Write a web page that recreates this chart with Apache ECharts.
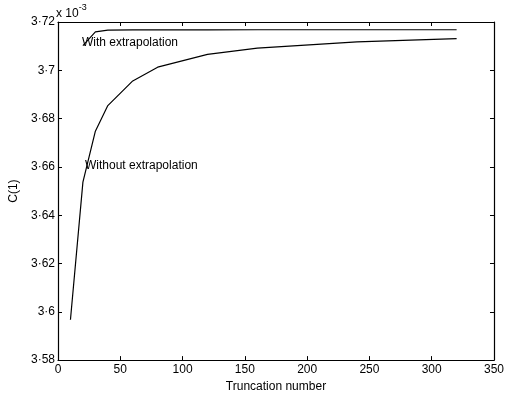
<!DOCTYPE html>
<html>
<head>
<meta charset="utf-8">
<script src="https://cdn.jsdelivr.net/npm/echarts@6/dist/echarts.min.js"></script>
<style>
  html, body { margin: 0; padding: 0; background: #fff; }
  #chart { width: 507px; height: 398px; }
</style>
</head>
<body>
<div id="chart"></div>
<script>
// values are in units of 1e-3
const withoutX = [10, 20, 30, 40, 60, 80, 120, 160, 240, 320];
const withoutY = [3.5967, 3.6537, 3.6748, 3.6854, 3.6956, 3.7013, 3.7066, 3.7092, 3.7118, 3.7131];
const withX = [20, 30, 40, 60, 80, 120, 160, 240, 320];
const withY = [3.7102, 3.7159, 3.7166, 3.7167, 3.7167, 3.7167, 3.7168, 3.7168, 3.7168];

const font = 'Liberation Sans, Arial, sans-serif';
const fmtY = v => parseFloat(v.toFixed(2)).toString().replace('.', '·');

const chart = echarts.init(document.getElementById('chart'));

const tickStyle = { show: true, inside: true, length: 4, lineStyle: { color: '#000', width: 1 } };
const lineStyle = { color: '#000', width: 1.2 };

chart.setOption({
  animation: false,
  grid: { left: 54, right: 13, top: 22, bottom: 32 },
  xAxis: [
    {
      type: 'value', min: 0, max: 350, interval: 50,
      axisLine: { show: true, onZero: false, lineStyle },
      axisTick: tickStyle,
      splitLine: { show: false },
      axisLabel: { color: '#000', fontFamily: font, fontSize: 12, margin: 4 },
      name: 'Truncation number', nameLocation: 'middle', nameGap: 18,
      nameTextStyle: { color: '#000', fontFamily: font, fontSize: 12 }
    },
    {
      type: 'value', position: 'top', min: 0, max: 350, interval: 50,
      axisLine: { show: true, onZero: false, lineStyle },
      axisTick: tickStyle,
      axisLabel: { show: false },
      splitLine: { show: false }
    }
  ],
  yAxis: [
    {
      type: 'value', min: 3.58, max: 3.72, interval: 0.02,
      axisLine: { show: true, onZero: false, lineStyle },
      axisTick: tickStyle,
      splitLine: { show: false },
      axisLabel: { color: '#000', fontFamily: font, fontSize: 12, margin: 3, formatter: fmtY },
      name: 'C(1)', nameLocation: 'middle', nameGap: 38,
      nameTextStyle: { color: '#000', fontFamily: font, fontSize: 12 }
    },
    {
      type: 'value', position: 'right', min: 3.58, max: 3.72, interval: 0.02,
      axisLine: { show: true, onZero: false, lineStyle },
      axisTick: tickStyle,
      axisLabel: { show: false },
      splitLine: { show: false }
    }
  ],
  series: [
    {
      name: 'Without extrapolation', type: 'line', showSymbol: false,
      data: withoutX.map((x, i) => [x, withoutY[i]]),
      lineStyle: { color: '#000', width: 1.2 }
    },
    {
      name: 'With extrapolation', type: 'line', showSymbol: false,
      data: withX.map((x, i) => [x, withY[i]]),
      lineStyle: { color: '#000', width: 1.2 }
    }
  ],
  graphic: [
    {
      type: 'text', left: 82, top: 37,
      style: { text: 'With extrapolation', fill: '#000', font: '12px ' + font }
    },
    {
      type: 'text', left: 85, top: 160,
      style: { text: 'Without extrapolation', fill: '#000', font: '12px ' + font }
    },
    {
      type: 'text', left: 56, top: 3,
      style: {
        text: '{a|x 10}{b|-3}',
        rich: {
          a: { fill: '#000', fontFamily: font, fontSize: 12, padding: [6, 0, 0, 0] },
          b: { fill: '#000', fontFamily: font, fontSize: 9, padding: [0, 0, 6, 0] }
        }
      }
    }
  ]
});
</script>
</body>
</html>
